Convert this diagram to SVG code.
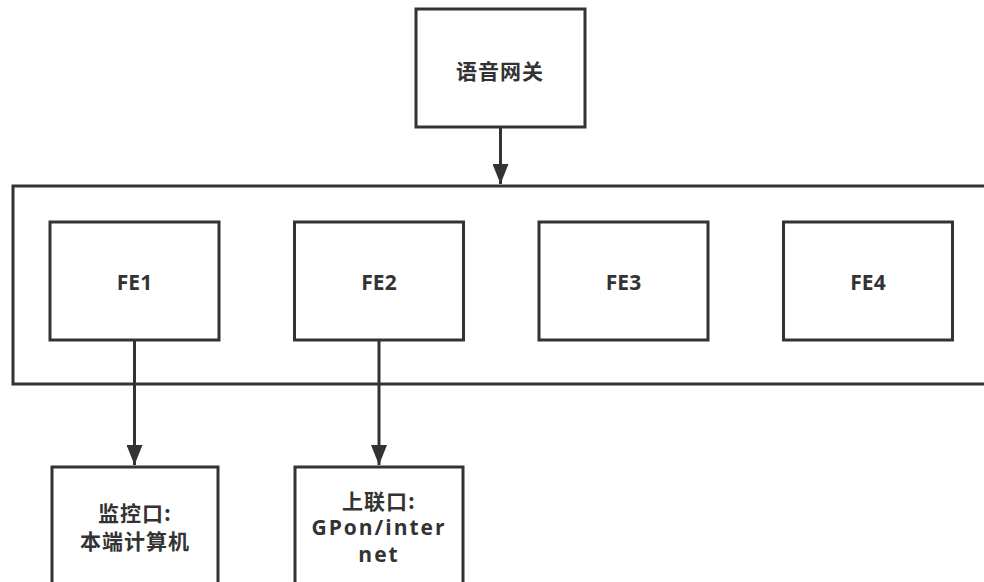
<svg xmlns="http://www.w3.org/2000/svg" width="984" height="582" viewBox="0 0 984 582">
<style>
.box{fill:#fff;stroke:#333;stroke-width:3}
.lbl{font-family:"Open Sans","Noto Sans CJK SC",sans-serif;font-weight:bold;font-size:21px;fill:#333;text-anchor:middle;dominant-baseline:central}
.cjk{font-family:"Noto Sans CJK SC",sans-serif;font-weight:bold;font-size:21px;fill:#333;text-anchor:middle;dominant-baseline:central;letter-spacing:1px}
.conn{stroke:#333;stroke-width:3;fill:none}
</style>
<defs>
<marker id="arr" markerUnits="userSpaceOnUse" markerWidth="20" markerHeight="16" refX="20" refY="8" orient="auto">
<path d="M0,0 L20,8 L0,16 Z" fill="#333"/>
</marker>
</defs>
<rect width="984" height="582" fill="#fff"/>
<g id="container"><rect class="box" x="13" y="186" width="990" height="198"/></g>
<g id="gateway"><rect class="box" x="416" y="9" width="169" height="118"/><text class="cjk" x="500" y="70">语音网关</text></g>
<g id="fe1"><rect class="box" x="50" y="222" width="169" height="118"/><text class="lbl" x="134.5" y="282">FE1</text></g>
<g id="fe2"><rect class="box" x="294.5" y="222" width="169" height="118"/><text class="lbl" x="379" y="282">FE2</text></g>
<g id="fe3"><rect class="box" x="539" y="222" width="169" height="118"/><text class="lbl" x="623.5" y="282">FE3</text></g>
<g id="fe4"><rect class="box" x="783.5" y="222" width="169" height="118"/><text class="lbl" x="868" y="282">FE4</text></g>
<g id="monitor"><rect class="box" x="52" y="467" width="166" height="130"/><text class="cjk" x="135" y="512">监控口:</text><text class="cjk" x="135" y="540">本端计算机</text></g>
<g id="uplink"><rect class="box" x="295" y="467" width="168" height="130"/><text class="cjk" x="379" y="500">上联口:</text><text class="lbl" x="379" y="527" letter-spacing="2">GPon/inter</text><text class="lbl" x="379" y="554" letter-spacing="2">net</text></g>
<g id="connectors">
<line class="conn" x1="500.5" y1="127" x2="500.5" y2="184" marker-end="url(#arr)"/>
<line class="conn" x1="134.5" y1="340" x2="134.5" y2="465" marker-end="url(#arr)"/>
<line class="conn" x1="379" y1="340" x2="379" y2="465" marker-end="url(#arr)"/>
</g>
</svg>
